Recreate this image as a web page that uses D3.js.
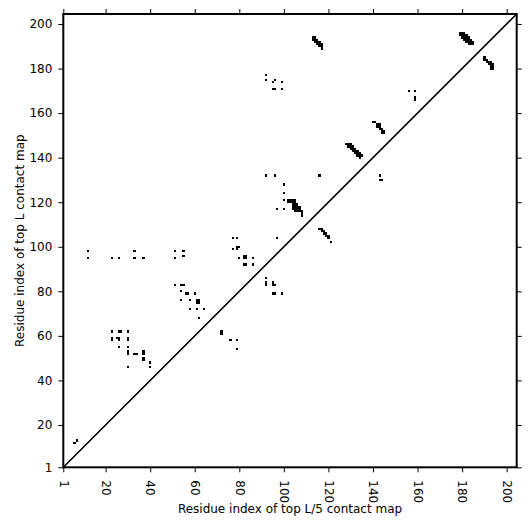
<!DOCTYPE html>
<html>
<head>
<meta charset="utf-8">
<script src="https://cdn.jsdelivr.net/npm/d3@7/dist/d3.min.js"></script>
<style>
  body { margin: 0; background: #fff; }
  text { font-family: "DejaVu Sans", sans-serif; }
</style>
</head>
<body>
<div class="sandbox"></div>
<script>
// residue range shown on both axes
var residueRange = [1, 204.5];
var tickValues = [1, 20, 40, 60, 80, 100, 120, 140, 160, 180, 200];

// top L contacts (drawn above the diagonal): [i, j]
var topLContacts = [
  [6, 12], [7, 13],
  [12, 95], [12, 98],
  [23, 95], [26, 95], [33, 95], [33, 98], [37, 95], [51, 95], [51, 98], [55, 96], [55, 98],
  [23, 62], [26, 62], [27, 62], [30, 62], [23, 59], [23, 58], [25, 59], [26, 59], [26, 58],
  [30, 59], [30, 58], [26, 55], [30, 55], [30, 52], [30, 53], [33, 52], [34, 52], [37, 52],
  [37, 53], [37, 50], [37, 49], [40, 48], [40, 46], [30, 46],
  [51, 83], [54, 83], [55, 83], [54, 80], [56, 79], [57, 79], [60, 79], [54, 76], [58, 76],
  [61, 76], [62, 76], [61, 75], [62, 75], [58, 72], [61, 72], [64, 72], [62, 68],
  [77, 104], [79, 104], [77, 99], [79, 99], [79, 100], [80, 100], [80, 95], [82, 95], [83, 95],
  [82, 96], [83, 96], [86, 95], [82, 92], [83, 92], [86, 92],
  [97, 104],
  [92, 132], [96, 132], [116, 132], [100, 128], [100, 124], [100, 121], [97, 117], [100, 117],
  [102, 121], [103, 121], [104, 121], [105, 121], [102, 120], [103, 120], [104, 120], [105, 120],
  [104, 119], [105, 119], [106, 119], [104, 118], [105, 118], [106, 118], [107, 118],
  [104, 117], [105, 117], [106, 117], [107, 117], [105, 116], [106, 116], [107, 116], [108, 116],
  [108, 115], [108, 114],
  [92, 177], [92, 175], [95, 174], [96, 175], [99, 174], [95, 171], [96, 171], [99, 171],
  [113, 194], [114, 194], [113, 193], [114, 193], [115, 193], [114, 192], [115, 192], [116, 192],
  [115, 191], [116, 191], [117, 191], [116, 190], [117, 190], [117, 189],
  [128, 146], [129, 146], [130, 146], [129, 145], [130, 145], [131, 145], [130, 144], [131, 144],
  [132, 144], [131, 143], [132, 143], [133, 143], [132, 142], [133, 142], [134, 142], [133, 141],
  [134, 141], [135, 141], [134, 140],
  [140, 156], [141, 156], [142, 155], [142, 154], [143, 155], [143, 154], [143, 153], [144, 153],
  [144, 152], [145, 152], [144, 151], [145, 151],
  [156, 170], [159, 170], [159, 167], [159, 166],
  [179, 196], [180, 196], [181, 196], [179, 195], [180, 195], [181, 195], [182, 195], [180, 194],
  [181, 194], [182, 194], [183, 194], [181, 193], [182, 193], [183, 193], [184, 193], [182, 192],
  [183, 192], [184, 192], [185, 192], [183, 191], [184, 191], [185, 191]
];

// top L/5 contacts (drawn below the diagonal): [i, j]
var topL5Contacts = [
  [72, 61], [72, 62], [76, 58], [79, 58], [79, 54],
  [92, 86], [92, 83], [92, 84], [95, 83], [96, 83], [95, 84], [95, 79], [96, 79], [99, 79],
  [116, 108], [117, 108], [117, 107], [118, 107], [118, 106], [119, 106], [119, 105], [120, 105],
  [120, 104], [121, 102],
  [143, 132], [143, 130], [144, 130],
  [190, 185], [190, 184], [191, 184], [191, 183], [192, 183], [192, 182], [193, 182], [193, 181],
  [194, 181], [194, 180], [193, 180], [193, 183], [194, 182]
];

(function() {
  var W = 531, H = 531;
  var mLeft = 63.3, mRight = 516.7, mTop = 14, mBottom = 467.3;

  var svg = d3
    .select(".sandbox")
    .append("svg")
    .attr("width", W)
    .attr("height", H);

  var x = d3.scaleLinear().domain(residueRange).range([mLeft, mRight]);
  var y = d3.scaleLinear().domain(residueRange).range([mBottom, mTop]);

  var cells = topLContacts.concat(topL5Contacts);

  svg
    .append("g")
    .selectAll("rect")
    .data(cells)
    .enter()
    .append("rect")
    .attr("x", d => x(d[0] - 0.5))
    .attr("y", d => y(d[1] + 0.5))
    .attr("width", d => x(d[0] + 0.5) - x(d[0] - 0.5))
    .attr("height", d => y(d[1] - 0.5) - y(d[1] + 0.5))
    .attr("fill", "black")
    .attr("shape-rendering", "crispEdges");

  // diagonal
  svg
    .append("line")
    .attr("x1", x(residueRange[0]))
    .attr("y1", y(residueRange[0]))
    .attr("x2", x(residueRange[1]))
    .attr("y2", y(residueRange[1]))
    .attr("stroke", "black")
    .attr("stroke-width", 1.6);

  // axes
  var xAxis = svg
    .append("g")
    .attr("transform", "translate(0," + mBottom + ")")
    .call(d3.axisBottom(x).tickValues(tickValues).tickFormat(d3.format("d")).tickSize(5));
  xAxis
    .selectAll("text")
    .attr("y", 0)
    .attr("x", 13)
    .attr("dy", "0.35em")
    .attr("transform", "rotate(90)")
    .style("text-anchor", "start");

  svg
    .append("g")
    .attr("transform", "translate(" + mLeft + ",0)")
    .call(d3.axisLeft(y).tickValues(tickValues).tickFormat(d3.format("d")).tickSize(5).tickPadding(6));

  svg
    .append("g")
    .attr("transform", "translate(0," + mTop + ")")
    .call(d3.axisTop(x).tickValues(tickValues).tickFormat("").tickSize(5));

  svg
    .append("g")
    .attr("transform", "translate(" + mRight + ",0)")
    .call(d3.axisRight(y).tickValues(tickValues).tickFormat("").tickSize(5));

  svg.selectAll(".domain").remove();
  svg.selectAll(".tick line").attr("stroke", "black").attr("stroke-width", 1);
  svg
    .selectAll(".tick text")
    .attr("fill", "black")
    .style("font-family", "DejaVu Sans")
    .style("font-size", "12px");

  // frame
  svg
    .append("rect")
    .attr("x", mLeft)
    .attr("y", mTop)
    .attr("width", mRight - mLeft)
    .attr("height", mBottom - mTop)
    .attr("fill", "none")
    .attr("stroke", "black")
    .attr("stroke-width", 2);

  // axis titles
  svg
    .append("text")
    .attr("x", (mLeft + mRight) / 2)
    .attr("y", 513)
    .attr("text-anchor", "middle")
    .style("font-size", "12px")
    .text("Residue index of top L/5 contact map");

  svg
    .append("text")
    .attr("transform", "translate(20," + (mTop + mBottom) / 2 + ") rotate(-90)")
    .attr("text-anchor", "middle")
    .attr("dy", "0.35em")
    .style("font-size", "12px")
    .text("Residue index of top L contact map");
})();
</script>
</body>
</html>
